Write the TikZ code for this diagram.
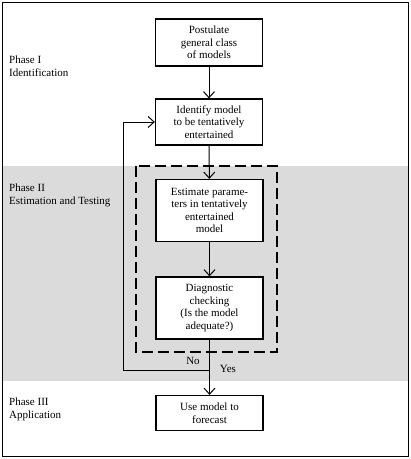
\documentclass[tikz,border=0pt]{standalone}
\usepackage{fontspec}
\setmainfont{Liberation Serif}
\usetikzlibrary{arrows.meta}
\begin{document}
\begin{tikzpicture}[x=1pt,y=-1pt,
    every node/.style={font=\fontsize{11}{12.5}\selectfont},
    box/.style={draw,line width=1.3pt,fill=white,align=center,minimum width=107pt,inner sep=2pt},
    phase/.style={anchor=north west,align=left,inner sep=0pt},
    >={Straight Barb[length=6pt,width=11pt]}]
      \useasboundingbox (0,0) rectangle (411,459) ;
      \fill[gray!28] (3,166) rectangle (408,381) ;
      \draw[thin] (2.5,2.5) rectangle (408.5,456.5) ;
      \draw[line width=1.2pt,dash pattern=on 11pt off 5pt] (136,166) rectangle (277,352) ;
      \node[phase] (P1) at (9,56) {Phase I\\Identification} ;
      \node[phase] (P2) at (9,184) {Phase II\\Estimation and Testing} ;
      \node[phase] (P3) at (9,398) {Phase III\\Application} ;
      \node[box,minimum height=47pt] (post) at (209,42.5) {Postulate\\general class\\of models} ;
      \node[box,minimum height=46pt] (ident) at (209,122) {Identify model\\to be tentatively\\entertained} ;
      \node[box,minimum height=62pt] (est) at (209.5,210.5) {Estimate parame-\\ters in tentatively\\entertained\\model} ;
      \node[box,minimum height=62pt] (diag) at (209.5,308) {Diagnostic\\checking\\(Is the model\\adequate?)} ;
      \node[box,minimum height=35pt] (use) at (209.5,413) {Use model to\\forecast} ;
      \coordinate (J) at (diag.south |- 0,370) ;
      \draw[line width=1pt,->] (post) -- (ident) ;
      \draw[line width=1pt,->] (ident) -- (est) ;
      \draw[line width=1pt,->] (est) -- (diag) ;
      \draw[line width=1pt] (diag) -- (J) ;
      \draw[line width=1pt,->] (J) -- (use) ;
      \draw[line width=1pt,->] (J) -- ++(-86,0) |- (ident.west) ;
      \node (no) at (193,361) {No} ;
      \node (yes) at (228,369) {Yes} ;
    \end{tikzpicture}
\end{document}
